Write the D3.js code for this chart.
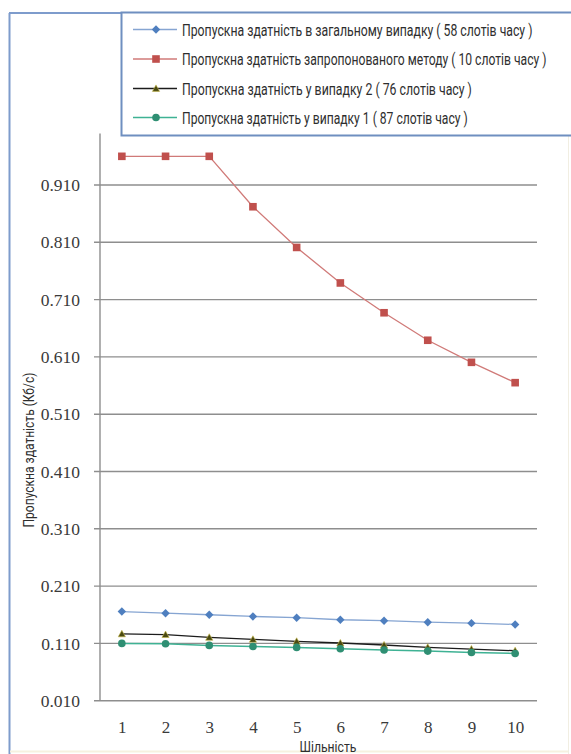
<!DOCTYPE html>
<html>
<head>
<meta charset="utf-8">
<script src="https://cdn.jsdelivr.net/npm/d3@7/dist/d3.min.js"></script>
<style>
  html, body { margin: 0; padding: 0; background: #ffffff; }
  svg { display: block; }
</style>
</head>
<body>
<script>
// Throughput vs. density for four slot-allocation cases
const densities = [1, 2, 3, 4, 5, 6, 7, 8, 9, 10];
const generalCase = [0.1656, 0.1627, 0.1600, 0.1570, 0.1548, 0.1513, 0.1496, 0.1470, 0.1453, 0.1431];
const proposedMethod = [0.960, 0.960, 0.960, 0.872, 0.801, 0.739, 0.687, 0.639, 0.6005, 0.565];
const case2 = [0.1265, 0.1253, 0.1205, 0.1170, 0.1135, 0.1107, 0.1072, 0.1030, 0.1000, 0.0972];
const case1 = [0.1100, 0.1095, 0.1065, 0.1047, 0.1030, 0.1007, 0.0984, 0.0966, 0.0942, 0.0925];
const yTickValues = [0.010, 0.110, 0.210, 0.310, 0.410, 0.510, 0.610, 0.710, 0.810, 0.910];
const yTickLabels = ["0.010", "0.110", "0.210", "0.310", "0.410", "0.510", "0.610", "0.710", "0.810", "0.910"];
const seriesNames = [
  "Пропускна здатність в загальному випадку ( 58 слотів часу )",
  "Пропускна здатність запропонованого методу ( 10 слотів часу )",
  "Пропускна здатність у випадку 2 ( 76 слотів часу )",
  "Пропускна здатність у випадку 1 ( 87 слотів часу )"
];
const xTitle = "Шільність";
const yTitle = "Пропускна здатність (Кб/с)";

const W = 571, H = 754;
const plot = { left: 100, right: 537, top: 133.4, bottom: 700.7 };
const condensedFont = "Roboto, 'Noto Sans', sans-serif";

const svg = d3.select("body").append("svg").attr("width", W).attr("height", H);
svg.append("rect").attr("width", W).attr("height", H).attr("fill", "#ffffff");

const x = d3.scalePoint().domain(densities).range([plot.left, plot.right]).padding(0.5);
const y = d3.scaleLinear().domain([0.01, 1.0]).range([plot.bottom, plot.top]);

// narrow text: draws at natural width, then squeezes horizontally to the wanted width
function narrowText(parent, str, tx, ty, width, size, anchor, rotate) {
  const g = parent.append("g").attr("transform", `translate(${tx},${ty})` + (rotate ? ` rotate(${rotate})` : ""));
  const t = g.append("text").attr("x", 0).attr("y", 0)
    .attr("font-family", condensedFont).attr("font-size", size)
    .attr("fill", "#2e2e2e").text(str);
  const natural = t.node().getComputedTextLength();
  const k = width / natural;
  const shift = anchor === "middle" ? -width / 2 : 0;
  t.attr("transform", `translate(${shift},0) scale(${k},1)`);
  return t;
}

// outer frame
svg.append("line").attr("x1", 9.5).attr("x2", 9.5).attr("y1", 13).attr("y2", H)
  .attr("stroke", "#7e9ccc").attr("stroke-width", 2);
svg.append("line").attr("x1", 9).attr("x2", 122).attr("y1", 13).attr("y2", 13)
  .attr("stroke", "#7e9ccc").attr("stroke-width", 2);
svg.append("line").attr("x1", 568.5).attr("x2", 568.5).attr("y1", 135).attr("y2", H)
  .attr("stroke", "#f1eee2").attr("stroke-width", 1);
svg.append("line").attr("x1", 10).attr("x2", 568).attr("y1", 751.5).attr("y2", 751.5)
  .attr("stroke", "#f6f1e0").attr("stroke-width", 2);

// gridlines with left tick stubs
const gridG = svg.append("g");
yTickValues.forEach(v => {
  gridG.append("line")
    .attr("x1", plot.left - 6).attr("x2", plot.right)
    .attr("y1", y(v)).attr("y2", y(v))
    .attr("stroke", "#8e8e8e").attr("stroke-width", 1.4);
});
// value axis line
svg.append("line").attr("x1", plot.left).attr("x2", plot.left)
  .attr("y1", plot.top).attr("y2", plot.bottom)
  .attr("stroke", "#8e8e8e").attr("stroke-width", 1.4);

// y tick labels
const yAxis = d3.axisLeft(y).tickValues(yTickValues)
  .tickFormat((d, i) => yTickLabels[i]).tickSize(0).tickPadding(20);
const yAxisG = svg.append("g").attr("transform", `translate(${plot.left},0)`).call(yAxis);
yAxisG.select(".domain").remove();
yAxisG.selectAll("text")
  .attr("font-family", "'Liberation Serif', 'Times New Roman', serif")
  .attr("font-size", 17.5).attr("fill", "#3a3a3a");

// x tick labels
const xAxis = d3.axisBottom(x).tickSize(0).tickPadding(20);
const xAxisG = svg.append("g").attr("transform", `translate(0,${plot.bottom})`).call(xAxis);
xAxisG.select(".domain").remove();
xAxisG.selectAll("text")
  .attr("font-family", "'Liberation Serif', 'Times New Roman', serif")
  .attr("font-size", 17).attr("fill", "#3a3a3a");

// axis titles
narrowText(svg, xTitle, 328, 752, 57, 14, "middle");
narrowText(svg, yTitle, 34, 450, 155, 15, "middle", -90);

// series
const series = [
  { values: generalCase, line: "#86a5d2", lw: 1.3, fill: "#4f7fbf", marker: "diamond", size: 4.2 },
  { values: proposedMethod, line: "#d07a78", lw: 1.3, fill: "#c0504d", marker: "square", size: 3.8 },
  { values: case2, line: "#1c1c1c", lw: 1.3, fill: "#4a4a12", marker: "triangle", size: 3.6 },
  { values: case1, line: "#3fb294", lw: 1.5, fill: "#2f8f73", marker: "circle", size: 3.8 }
];

function drawMarker(g, type, cx, cy, s, fill) {
  if (type === "diamond") {
    g.append("path").attr("d", `M${cx},${cy - s}L${cx + s},${cy}L${cx},${cy + s}L${cx - s},${cy}Z`).attr("fill", fill);
  } else if (type === "square") {
    g.append("rect").attr("x", cx - s).attr("y", cy - s).attr("width", 2 * s).attr("height", 2 * s).attr("fill", fill);
  } else if (type === "triangle") {
    g.append("path").attr("d", `M${cx},${cy - s}L${cx + s},${cy + s * 0.8}L${cx - s},${cy + s * 0.8}Z`)
      .attr("fill", fill).attr("stroke", "#c8b948").attr("stroke-width", 0.6);
  } else {
    g.append("circle").attr("cx", cx).attr("cy", cy).attr("r", s).attr("fill", fill);
  }
}

const lineGen = d3.line().x((d, i) => x(densities[i])).y(d => y(d));
series.forEach(s => {
  const g = svg.append("g");
  g.append("path").attr("d", lineGen(s.values)).attr("fill", "none")
    .attr("stroke", s.line).attr("stroke-width", s.lw);
  s.values.forEach((v, i) => drawMarker(g, s.marker, x(densities[i]), y(v), s.size, s.fill));
});

// legend box (its right edge runs past the page edge)
const legend = svg.append("g");
legend.append("path")
  .attr("d", `M${W},12.5H121.5V135.5H${W}`)
  .attr("fill", "#ffffff").attr("stroke", "#6f8fc0").attr("stroke-width", 2);
const rowY = [29.5, 59, 88.5, 117.5];
const textWidths = [351, 365, 290, 286];
series.forEach((s, i) => {
  const cy = rowY[i];
  legend.append("line").attr("x1", 133).attr("x2", 177).attr("y1", cy).attr("y2", cy)
    .attr("stroke", s.line).attr("stroke-width", s.lw);
  drawMarker(legend, s.marker, 156, cy, s.size, s.fill);
  narrowText(legend, seriesNames[i], 182, cy + 6, textWidths[i], 16.5, "start");
});
</script>
</body>
</html>
